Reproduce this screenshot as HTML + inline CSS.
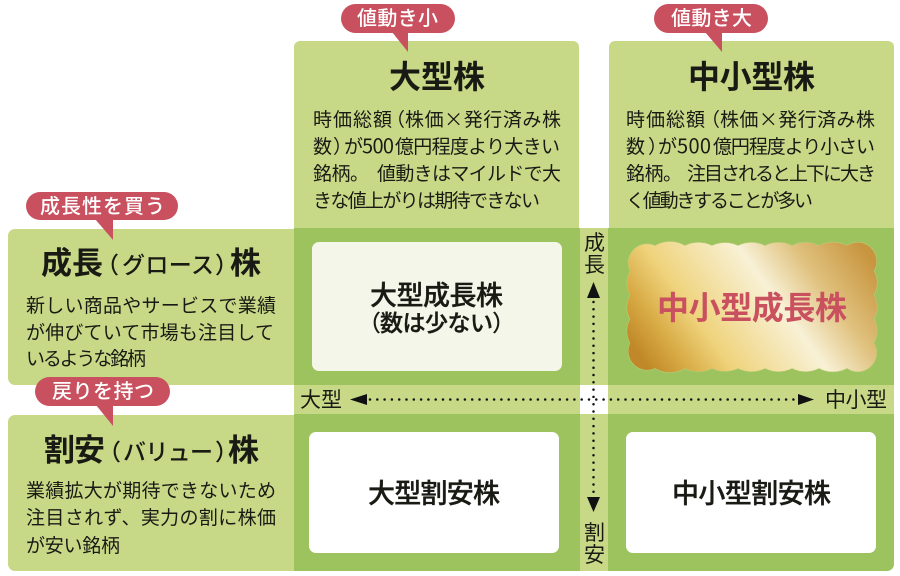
<!DOCTYPE html>
<html lang="ja"><head><meta charset="utf-8"><style>
html,body{margin:0;padding:0;background:#fff}
svg{display:block}
text{font-family:"Noto Sans CJK JP",sans-serif;fill:#1a1a14}
.b{font-size:19px}
.h{font-weight:700}
.m{font-weight:500}
.x{font-weight:500;stroke:#1a1a14;stroke-width:.35}
.w{font-weight:500;font-size:20px;fill:#fff}
.n{font-size:21px}
</style></head><body>
<svg width="900" height="576" viewBox="0 0 900 576" xmlns="http://www.w3.org/2000/svg">
<defs>
<linearGradient id="g" gradientUnits="userSpaceOnUse" x1="665" y1="392" x2="864" y2="249">
<stop offset="0" stop-color="#c08828"/><stop offset=".13" stop-color="#d8ab45"/><stop offset=".28" stop-color="#efd37c"/><stop offset=".59" stop-color="#f8f1d6"/><stop offset=".78" stop-color="#dfc07c"/><stop offset="1" stop-color="#c8953f"/>
</linearGradient>
</defs>
<rect width="900" height="576" fill="#fff"/>
<!-- top panels -->
<path d="M294 229V47a6 6 0 0 1 6-6H573a6 6 0 0 1 6 6V229Z" fill="#c7d987"/>
<path d="M609 229V47a6 6 0 0 1 6-6H888a6 6 0 0 1 6 6V229Z" fill="#c7d987"/>
<!-- left panels -->
<path d="M295 229V385H15a7 7 0 0 1-7-7V236a7 7 0 0 1 7-7Z" fill="#c7d987"/>
<path d="M295 415V571H15a7 7 0 0 1-7-7V422a7 7 0 0 1 7-7Z" fill="#c7d987"/>
<!-- central -->
<rect x="294" y="228" width="286" height="157" fill="#9cc35e"/>
<rect x="608" y="228" width="286" height="157" fill="#9cc35e"/>
<path d="M294 414H580V571H294Z" fill="#9cc35e"/>
<path d="M608 414H894V564a7 7 0 0 1-7 7H608Z" fill="#9cc35e"/>
<rect x="580" y="228" width="28" height="343" fill="#c7d987"/>
<rect x="294" y="385" width="600" height="29" fill="#c7d987"/>
<rect x="580" y="385" width="28" height="29" fill="#fff"/>
<!-- boxes -->
<rect x="312" y="242" width="250" height="129" rx="7" fill="#f4f6e9"/>
<rect x="309" y="432" width="250" height="121" rx="7" fill="#fff"/>
<rect x="626" y="432" width="250" height="121" rx="7" fill="#fff"/>
<path fill="url(#g)" stroke="#b8cc76" stroke-width=".6" d="M630 271A19 19 0 0 1 655 245.500A30 30 0 0 1 685 245.500A30 30 0 0 1 712 245.500A30 30 0 0 1 738 245.500A30 30 0 0 1 765 245.500A30 30 0 0 1 792 245.500A30 30 0 0 1 819 245.500A30 30 0 0 1 847 245.500A19 19 0 0 1 874 271A24 24 0 0 1 874 295A24 24 0 0 1 874 319A24 24 0 0 1 874 343A19 19 0 0 1 847 368.500A30 30 0 0 1 819 368.500A30 30 0 0 1 792 368.500A30 30 0 0 1 765 368.500A30 30 0 0 1 738 368.500A30 30 0 0 1 712 368.500A30 30 0 0 1 685 368.500A30 30 0 0 1 655 368.500A19 19 0 0 1 630 343A24 24 0 0 1 630 319A24 24 0 0 1 630 295A24 24 0 0 1 630 271Z"/>
<!-- bubbles -->
<g fill="#c9515f">
<rect x="341" y="4" width="114" height="29" rx="14.500"/><path d="M392 32L408 52V32Z"/>
<rect x="654" y="4" width="114" height="29" rx="14.500"/><path d="M705 32L722 52V32Z"/>
<rect x="26" y="192" width="152" height="28" rx="14"/><path d="M95 219L113 240V219Z"/>
<rect x="35" y="377" width="135" height="29" rx="14.500"/><path d="M96 405L113 426V405Z"/>
</g>
<text class="w" x="357" y="25" textLength="81">値動き小</text>
<text class="w" x="671" y="25" textLength="81">値動き大</text>
<text class="w" x="40" y="213" textLength="125">成長性を買う</text>
<text class="w" x="52" y="398" textLength="102">戻りを持つ</text>
<!-- headers -->
<text class="h" x="389" y="88" font-size="32" textLength="96">大型株</text>
<text class="h" x="688" y="88" font-size="32" textLength="127">中小型株</text>
<text class="h" x="41" y="274" font-size="31" textLength="62">成長</text>
<text class="m" x="96" y="273" font-size="23">（</text>
<text class="m" x="122" y="273" font-size="23" textLength="92">グロース</text>
<text class="m" x="215" y="273" font-size="23">）</text>
<text class="h" x="230" y="274" font-size="31">株</text>
<text class="h" x="44" y="461" font-size="31" textLength="61">割安</text>
<text class="m" x="98" y="460" font-size="23">（</text>
<text class="m" x="123" y="460" font-size="23" textLength="90">バリュー</text>
<text class="m" x="215" y="460" font-size="23">）</text>
<text class="h" x="228" y="461" font-size="31">株</text>
<!-- body top left -->
<text class="b" x="313" y="126" textLength="79">時価総額</text>
<text class="b" x="386" y="126">（</text>
<text class="b" x="405" y="126" textLength="156">株価×発行済み株</text>
<text class="b" x="313" y="153">数</text>
<text class="b" x="333" y="153">）</text>
<text class="b" x="344" y="153">が</text>
<text class="b" x="362" y="153" textLength="32" style="font-size:20px">500</text>
<text class="b" x="395" y="153" textLength="165">億円程度より大きい</text>
<text class="b" x="313" y="180" textLength="56">銘柄。</text>
<text class="b" x="377" y="180" textLength="184">値動きはマイルドで大</text>
<text class="b" x="313" y="207" textLength="227">きな値上がりは期待できない</text>
<!-- body top right -->
<text class="b" x="626" y="126" textLength="79">時価総額</text>
<text class="b" x="701" y="126">（</text>
<text class="b" x="720" y="126" textLength="155">株価×発行済み株</text>
<text class="b" x="626" y="153">数</text>
<text class="b" x="648" y="153">）</text>
<text class="b" x="658" y="153">が</text>
<text class="b" x="677" y="153" textLength="34" style="font-size:20px">500</text>
<text class="b" x="713" y="153" textLength="162">億円程度より小さい</text>
<text class="b" x="626" y="180" textLength="56">銘柄。</text>
<text class="b" x="687" y="180" textLength="189">注目されると上下に大き</text>
<text class="b" x="626" y="207" textLength="187">く値動きすることが多い</text>
<!-- body left -->
<text class="b" x="26" y="312" textLength="250">新しい商品やサービスで業績</text>
<text class="b" x="26" y="339" textLength="248">が伸びていて市場も注目して</text>
<text class="b" x="26" y="365" textLength="120">いるような銘柄</text>
<text class="b" x="26" y="497" textLength="250">業績拡大が期待できないため</text>
<text class="b" x="26" y="524" textLength="250">注目されず、実力の割に株価</text>
<text class="b" x="26" y="552" textLength="94">が安い銘柄</text>
<!-- box labels -->
<text class="x" x="370" y="305" font-size="27" textLength="133">大型成長株</text>
<text class="m" x="358" y="331" font-size="23">（</text>
<text class="x" x="380" y="331" font-size="23" textLength="113">数は少ない</text>
<text class="m" x="492" y="331" font-size="23">）</text>
<text class="x" x="368" y="503" font-size="27" textLength="132">大型割安株</text>
<text class="x" x="672" y="503" font-size="27" textLength="159">中小型割安株</text>
<text class="h" x="657" y="319" font-size="32" textLength="190" style="fill:#c9515f">中小型成長株</text>
<!-- axes labels -->
<text class="n" x="300" y="407" textLength="42">大型</text>
<text class="n" x="825" y="407" textLength="62">中小型</text>
<text class="n" x="584" y="250">成</text>
<text class="n" x="584" y="272">長</text>
<text class="n" x="584" y="540">割</text>
<text class="n" x="584" y="562">安</text>
<!-- arrows -->
<path d="M350 399.500L367 394V405Z" fill="#111"/>
<path d="M814 399.500L798 394V405Z" fill="#111"/>
<path d="M593.500 282L600 298H587Z" fill="#111"/>
<path d="M593.500 512L587 497H600Z" fill="#111"/>
<line x1="370" y1="399.500" x2="796" y2="399.500" stroke="#111" stroke-width="2.500" stroke-linecap="round" stroke-dasharray="0 7.300"/>
<line x1="593.500" y1="302" x2="593.500" y2="495" stroke="#111" stroke-width="2.500" stroke-linecap="round" stroke-dasharray="0 7.300"/>
</svg>
</body></html>
